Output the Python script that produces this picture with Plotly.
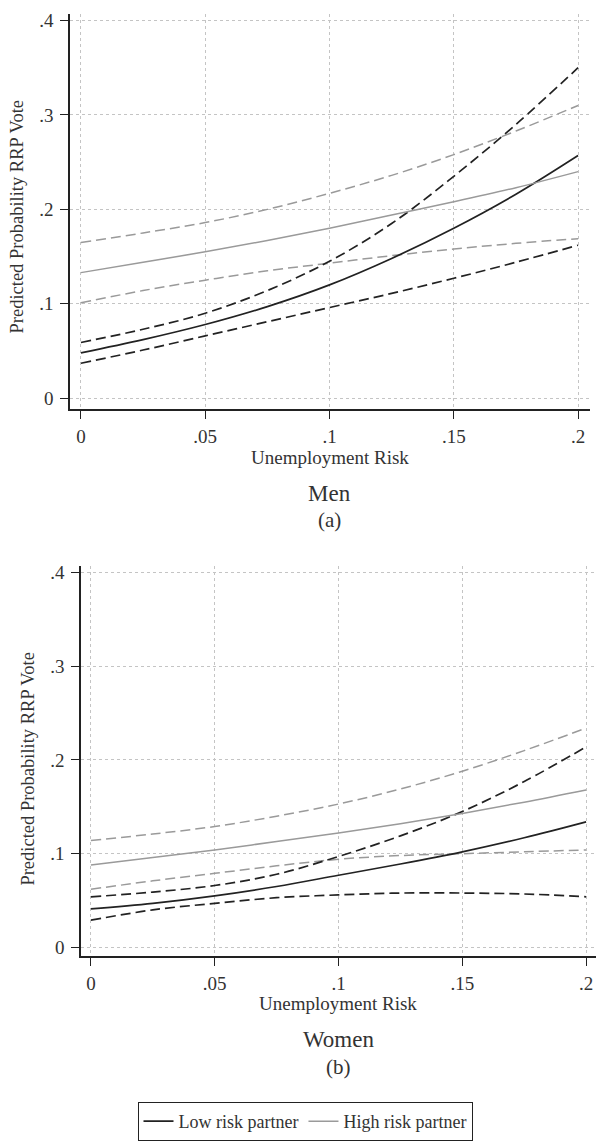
import plotly.graph_objects as go

x_vals = [0, 0.025, 0.05, 0.075, 0.1, 0.125, 0.15, 0.175, 0.2]

# Men
men_low = [0.048, 0.062, 0.078, 0.097, 0.120, 0.148, 0.180, 0.216, 0.257]
men_low_up = [0.059, 0.073, 0.090, 0.114, 0.145, 0.185, 0.235, 0.290, 0.350]
men_low_lo = [0.037, 0.051, 0.066, 0.081, 0.096, 0.111, 0.127, 0.144, 0.162]
men_high = [0.133, 0.144, 0.155, 0.167, 0.180, 0.194, 0.208, 0.223, 0.240]
men_high_up = [0.165, 0.175, 0.186, 0.200, 0.217, 0.236, 0.258, 0.283, 0.310]
men_high_lo = [0.101, 0.114, 0.125, 0.135, 0.143, 0.151, 0.158, 0.164, 0.169]

# Women
women_low = [0.041, 0.047, 0.055, 0.065, 0.077, 0.089, 0.102, 0.117, 0.134]
women_low_up = [0.054, 0.059, 0.066, 0.078, 0.097, 0.119, 0.145, 0.177, 0.214]
women_low_lo = [0.029, 0.040, 0.047, 0.053, 0.056, 0.058, 0.058, 0.057, 0.054]
women_high = [0.088, 0.096, 0.104, 0.113, 0.122, 0.132, 0.143, 0.155, 0.168]
women_high_up = [0.114, 0.121, 0.129, 0.140, 0.153, 0.169, 0.188, 0.210, 0.234]
women_high_lo = [0.062, 0.071, 0.079, 0.087, 0.094, 0.098, 0.100, 0.102, 0.104]

x_ticks = [0, 0.05, 0.1, 0.15, 0.2]
x_ticktext = ["0", ".05", ".1", ".15", ".2"]
y_ticks = [0, 0.1, 0.2, 0.3, 0.4]
y_ticktext = ["0", ".1", ".2", ".3", ".4"]

BLACK = "#222222"
GRAY = "#9a9a9a"
TEXT = "#333333"
DASH = "10px,5px"
FONT = "Liberation Serif"

fig = go.Figure()

def add_panel(xa, ya, low, low_up, low_lo, high, high_up, high_lo, legend):
    fig.add_trace(go.Scatter(x=x_vals, y=high_up, mode="lines", line=dict(color=GRAY, width=1.5, dash=DASH, shape="spline"),
                             xaxis=xa, yaxis=ya, showlegend=False))
    fig.add_trace(go.Scatter(x=x_vals, y=high_lo, mode="lines", line=dict(color=GRAY, width=1.5, dash=DASH, shape="spline"),
                             xaxis=xa, yaxis=ya, showlegend=False))
    fig.add_trace(go.Scatter(x=x_vals, y=low_up, mode="lines", line=dict(color=BLACK, width=1.7, dash=DASH, shape="spline"),
                             xaxis=xa, yaxis=ya, showlegend=False))
    fig.add_trace(go.Scatter(x=x_vals, y=low_lo, mode="lines", line=dict(color=BLACK, width=1.7, dash=DASH, shape="spline"),
                             xaxis=xa, yaxis=ya, showlegend=False))
    fig.add_trace(go.Scatter(x=x_vals, y=low, mode="lines", name="Low risk partner",
                             line=dict(color=BLACK, width=1.7, shape="spline"),
                             xaxis=xa, yaxis=ya, showlegend=legend, legendrank=1))
    fig.add_trace(go.Scatter(x=x_vals, y=high, mode="lines", name="High risk partner",
                             line=dict(color=GRAY, width=1.5, shape="spline"),
                             xaxis=xa, yaxis=ya, showlegend=legend, legendrank=2))

add_panel("x", "y", men_low, men_low_up, men_low_lo, men_high, men_high_up, men_high_lo, True)
add_panel("x2", "y2", women_low, women_low_up, women_low_lo, women_high, women_high_up, women_high_lo, False)

W, H = 596, 1141

def axis_common(ticks, text):
    return dict(tickvals=ticks, ticktext=text,
                showline=True, linecolor=BLACK, linewidth=1.6, ticks="outside", ticklen=8,
                tickcolor=BLACK, tickwidth=1.4, showgrid=True, gridcolor="#c4c4c4", griddash="dot",
                gridwidth=1, zeroline=False, tickfont=dict(family=FONT, size=19, color=TEXT))

def xaxis_cfg(domain, rng, anchor):
    d = axis_common(x_ticks, x_ticktext)
    d.update(domain=domain, range=rng, anchor=anchor, ticklabelstandoff=1)
    return d

def yaxis_cfg(domain, rng, anchor):
    d = axis_common(y_ticks, y_ticktext)
    d.update(domain=domain, range=rng, anchor=anchor, ticklabelstandoff=3)
    return d

fig.update_layout(
    width=W, height=H,
    margin=dict(l=0, r=0, t=0, b=0),
    paper_bgcolor="white", plot_bgcolor="white",
    xaxis=xaxis_cfg([70 / W, 590 / W], [-0.0044, 0.2048], "y"),
    yaxis=yaxis_cfg([1 - 408 / H, 1 - 10 / H], [-0.0116, 0.407], "x"),
    xaxis2=xaxis_cfg([81 / W, 1.0], [-0.004, 0.204], "y2"),
    yaxis2=yaxis_cfg([1 - 959 / H, 1 - 566 / H], [-0.0095, 0.407], "x2"),
    showlegend=True,
    legend=dict(orientation="h", x=305 / W, xanchor="center", y=1 - 1106 / H, yanchor="top",
                bordercolor=BLACK, borderwidth=1, bgcolor="white",
                font=dict(family=FONT, size=18, color=TEXT),
                traceorder="normal"),
)

def ann(text, x, y, size, angle=0):
    fig.add_annotation(text=text, x=x / W, y=1 - y / H, xref="paper", yref="paper",
                       xanchor="center", yanchor="middle",
                       showarrow=False, textangle=angle,
                       font=dict(family=FONT, size=size, color=TEXT))

ann("Unemployment Risk", 330, 457, 19)
ann("Men", 329, 493, 23)
ann("(a)", 329, 520, 21)
ann("Predicted Probability RRP Vote", 17, 215, 18.5, -90)

ann("Unemployment Risk", 338, 1007, 19)
ann("Women", 338, 1043, 23)
ann("(b)", 338, 1071, 21)
ann("Predicted Probability RRP Vote", 28, 771, 18.5, -90)

fig.write_html("out.html")
